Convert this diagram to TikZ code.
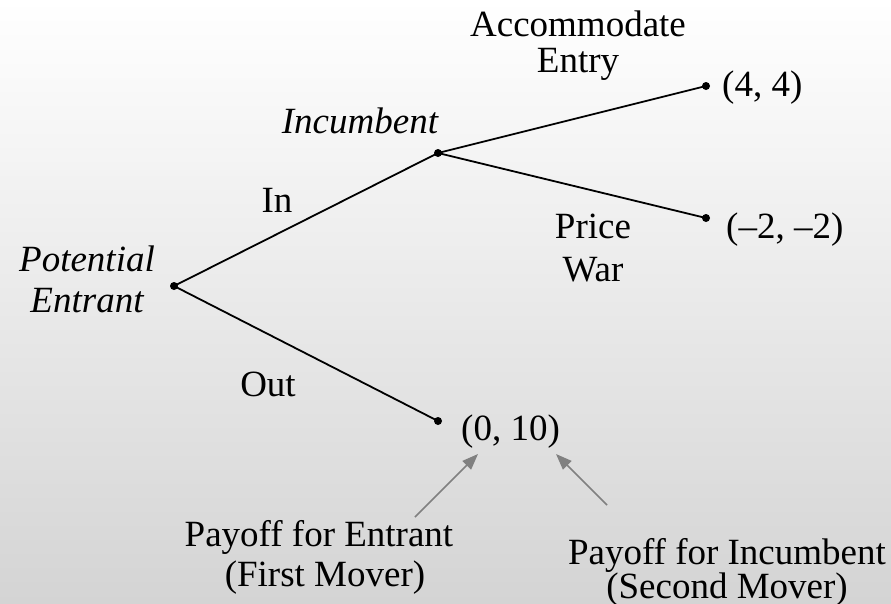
\documentclass[tikz,border=0pt]{standalone}
\usepackage{fontspec}
\setmainfont{Liberation Serif}
\usetikzlibrary{arrows.meta}
\tikzset{
  dot/.style={circle,fill=black,inner sep=0pt,minimum size=8pt},
  branch/.style={line width=1.8pt,black},
  lbl/.style={font=\fontsize{37}{40}\selectfont,align=center,inner sep=0pt,anchor=base},
  ilbl/.style={lbl,font=\fontsize{37}{40}\selectfont\itshape},
  pay/.style={lbl,anchor=base west},
  note/.style={draw=gray,line width=1.6pt,-{Triangle[length=16pt,width=12pt]},fill=gray}
}
\begin{document}
\begin{tikzpicture}[x=1pt,y=-1pt]
\shade[top color=white,bottom color={rgb,255:red,212;green,212;blue,212}] (0,0) rectangle (891,603);
\useasboundingbox (0,0) rectangle (891,603);
\node[dot] (root) at (174,286) {};
\node[dot] (inc) at (438,153) {};
\node[dot] (acc) at (706,86) {};
\node[dot] (war) at (706,218) {};
\node[dot] (out) at (438,421) {};
\draw[branch] (root.center) -- (inc.center);
\draw[branch] (root.center) -- (out.center);
\draw[branch] (inc.center) -- (acc.center);
\draw[branch] (inc.center) -- (war.center);
\node[pay] (p1) at (722,96) {(4, 4)};
\node[pay] (p2) at (726,238) {(\textendash2, \textendash2)};
\node[pay] (p3) at (461,440) {(0, 10)};
\node[ilbl] (pe1) at (87,271) {Potential};
\node[ilbl] (pe2) at (87,312) {Entrant};
\node[ilbl] (incl) at (360,133) {Incumbent};
\node[lbl] (inl) at (277,212) {In};
\node[lbl] (outl) at (268,396) {Out};
\node[lbl] (acc1) at (578,36) {Accommodate};
\node[lbl] (acc2) at (578,72) {Entry};
\node[lbl] (pw1) at (593,238) {Price};
\node[lbl] (pw2) at (593,281) {War};
\node[lbl] (fe1) at (319,546) {Payoff for Entrant};
\node[lbl] (fe2) at (325,586) {(First Mover)};
\node[lbl] (si1) at (727,564) {Payoff for Incumbent};
\node[lbl] (si2) at (727,598) {(Second Mover)};
\coordinate (t1) at (415,517);
\coordinate (h1) at (478,454);
\coordinate (t2) at (607,505);
\coordinate (h2) at (556,454);
\draw[note] (t1) -- (h1);
\draw[note] (t2) -- (h2);
\end{tikzpicture}
\end{document}
